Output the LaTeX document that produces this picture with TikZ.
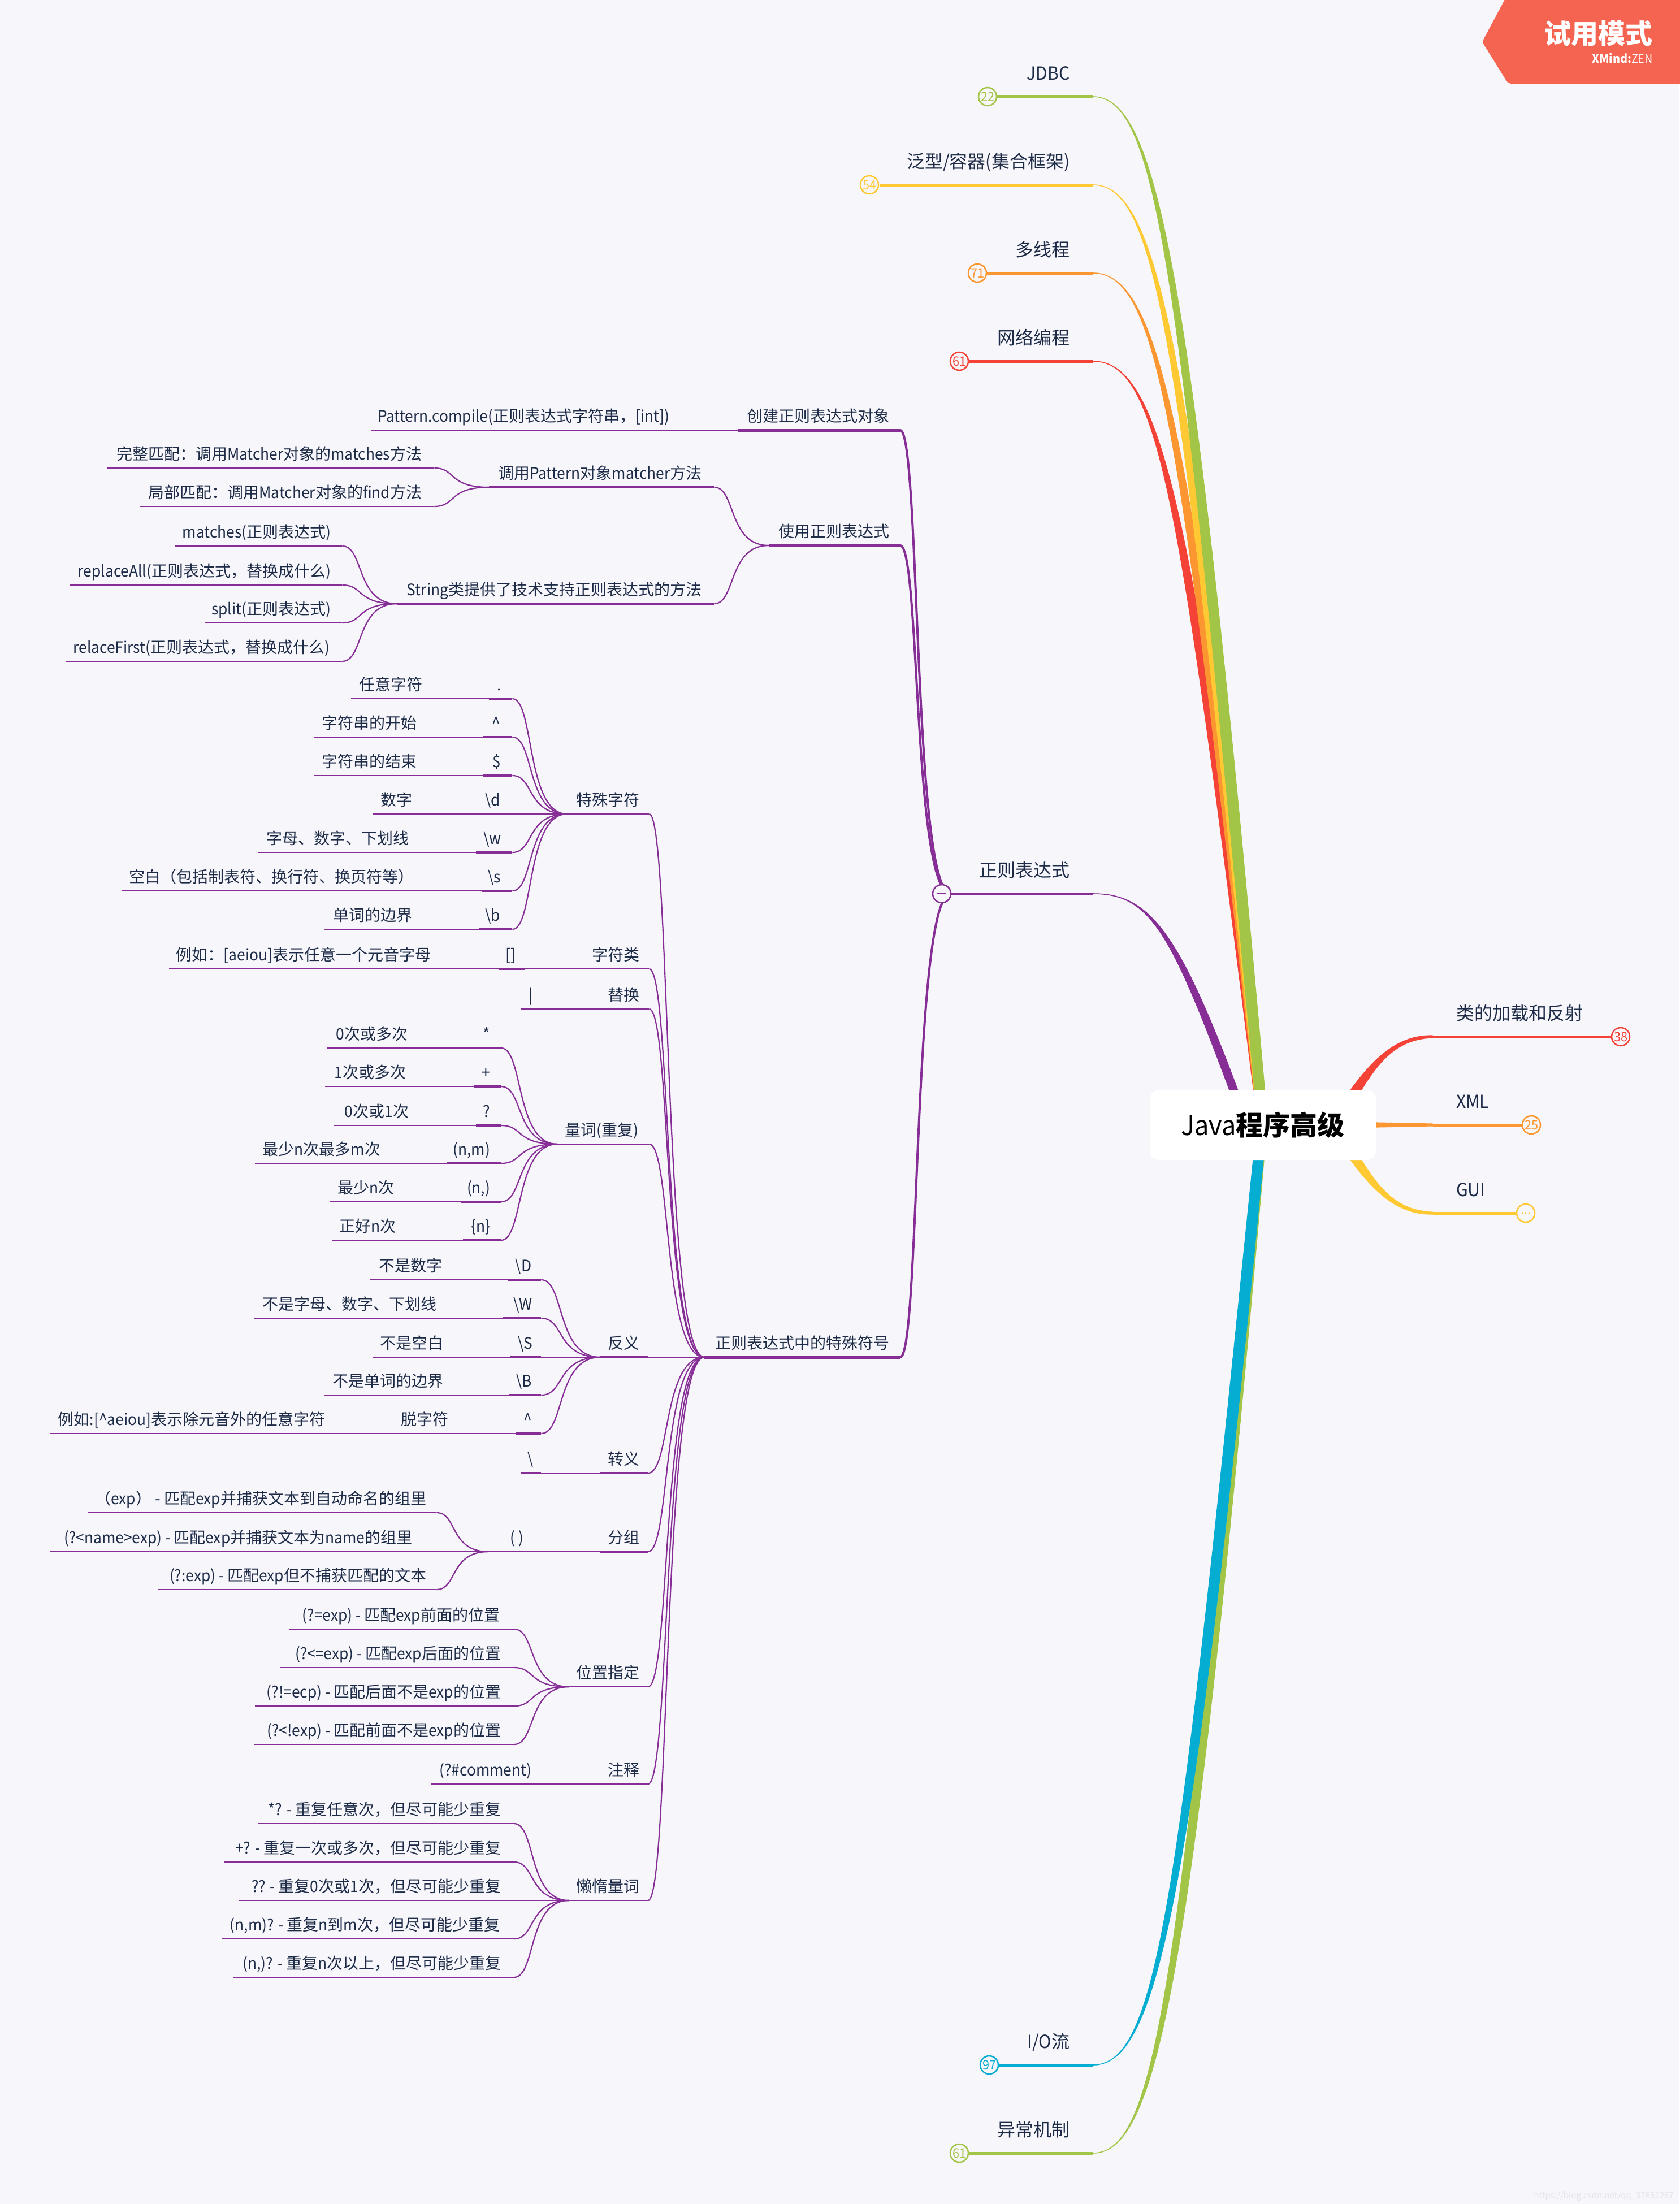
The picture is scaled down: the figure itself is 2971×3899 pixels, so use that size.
\documentclass[tikz,border=0pt]{standalone}
\usepackage{fontspec}
\setmainfont{Noto Sans CJK SC}[FakeStretch=0.94]
\newfontfamily\cjkf{Noto Sans CJK SC}
\XeTeXinterchartokenstate=1
\newcount\cjkcc
\cjkcc="3000 \loop \XeTeXcharclass\cjkcc=7 \advance\cjkcc 1 \ifnum\cjkcc<"3040 \repeat
\cjkcc="4E00 \loop \XeTeXcharclass\cjkcc=7 \advance\cjkcc 1 \ifnum\cjkcc<"A000 \repeat
\cjkcc="FF00 \loop \XeTeXcharclass\cjkcc=7 \advance\cjkcc 1 \ifnum\cjkcc<"FF60 \repeat
\XeTeXinterchartoks 0 7 = {\cjkf}
\XeTeXinterchartoks 4095 7 = {\cjkf}
\XeTeXinterchartoks 7 0 = {\rmfamily}
\usetikzlibrary{calc}
\definecolor{bgc}{HTML}{F6F6FB}
\definecolor{txt}{HTML}{1D2B47}
\definecolor{pur}{HTML}{862D96}
\definecolor{grn}{HTML}{A2C547}
\definecolor{yel}{HTML}{FFC934}
\definecolor{org}{HTML}{FC9630}
\definecolor{red1}{HTML}{F44336}
\definecolor{blu}{HTML}{06ADD2}
\definecolor{tag}{HTML}{F56450}
\tikzset{
  tnode/.style={inner sep=0pt,anchor=south west,text=txt,text height=26pt,text depth=14pt,font=\fontsize{28pt}{34pt}\selectfont},
  mnode/.style={inner sep=0pt,anchor=south west,text=txt,text height=30pt,text depth=29pt,font=\fontsize{32pt}{38pt}\selectfont},
  lf/.style={line width=2.5pt,pur},
  sy/.style={line width=3.6pt,pur},
  th/.style={line width=5pt,pur},
  lnk/.style={line width=2.2pt,pur},
  lnkb/.style={line width=4pt,pur},
  badge/.style={circle,minimum size=32pt,inner sep=0pt,draw=#1,line width=2.5pt,fill=bgc,text=#1,font=\fontsize{23pt}{26pt}\selectfont},
}
% style, name, xl, xr, y, x of text right edge, text
\newcommand\tp[7]{%
  \node[tnode] (#2) at (#3,#5) {\makebox[\dimexpr\numexpr#4-#3\relax pt][r]{#7\kern\dimexpr\numexpr#4-#6\relax pt}};
  \draw[#1] (#2.south west) -- (#2.south east);
}
\newcommand\mn[7]{%
  \node[mnode] (#2) at (#3,#5) {\makebox[\dimexpr\numexpr#4-#3\relax pt][r]{#7\kern\dimexpr\numexpr#4-#6\relax pt}};
  \draw[line width=5pt,#1] (#2.south west) -- (#2.south east);
}
\newcommand\mr[7]{%
  \node[mnode] (#2) at (#3,#5) {\makebox[\dimexpr\numexpr#4-#3\relax pt][l]{\kern\dimexpr\numexpr#6-#3\relax pt #7}};
  \draw[line width=5pt,#1] (#2.south west) -- (#2.south east);
}
% link: style, child, parent
\newcommand\lks[3]{%
  \draw[#1] let \p1=(#2.south east),\p2=(#3.south west) in
    (\p1) .. controls ({\x1+0.4*(\x2-\x1)},\y1) and ({\x1+0.25*(\x2-\x1)},\y2) .. (\p2);
}
\newcommand\lk[2]{\lks{lnk}{#1}{#2}}
% colour, main node, x shift of end, half width at P2, half width at P3, side sign
\newcommand\br[6]{%
  \fill[#1] let \p1=(#2.south east),\p2=($(root.center)+(#3,0)$) in
   (\x1,\y1+0.8pt) .. controls ({\x1+0.39*(\x2-\x1)},\y1+0.8pt) and ({\x1+0.55*(\x2-\x1)+#6*#4pt},{\y1+0.18*(\y2-\y1)}) .. ({\x2+#6*#5pt},\y2)
   -- ({\x2-#6*#5pt},\y2) .. controls ({\x1+0.55*(\x2-\x1)-#6*#4pt},{\y1+0.18*(\y2-\y1)}) and ({\x1+0.39*(\x2-\x1)},\y1-0.8pt) .. (\x1,\y1-0.8pt) -- cycle;
}
% colour, right-hand node, side sign (1 = node above root, -1 = below)
\newcommand\brr[3]{%
  \fill[#1] let \p1=(#2.south west),\p2=(root.center) in
   (\x1,{\y1+#3*2.5pt}) .. controls (\x1-80pt,{\y1+#3*5pt}) and (\x1-130pt,{\y1+0.42*(\y2-\y1)}) .. (\x1-188pt,\y2)
   -- (\x1-162pt,\y2) .. controls (\x1-110pt,{\y1+0.42*(\y2-\y1)}) and (\x1-80pt,{\y1-#3*5pt}) .. (\x1,{\y1-#3*2.5pt}) -- cycle;
}
% symbol node with its description to the left, and the link between them
\newcommand\pr[9]{%
  \tp{sy}{#1}{#2}{#3}{#4}{#5}{#6}
  \tp{lf}{#1d}{#7}{#8}{#4}{\numexpr#8-14\relax}{#9}
  \lk{#1d}{#1}
}
\begin{document}
\begin{tikzpicture}[x=1pt,y=-1pt]
\useasboundingbox (0,0) rectangle (2971,3899);
\fill[bgc] (0,0) rectangle (2971,3899);
\coordinate (root) at (2234,1990);

% main nodes
\mn{grn}{jdbc}{1763}{1933}{171}{1892}{JDBC}
\mn{yel}{coll}{1556}{1933}{327}{1892}{泛型/容器(集合框架)}
\mn{org}{thr}{1745}{1933}{483}{1892}{多线程}
\mn{red1}{net}{1713}{1933}{639}{1892}{网络编程}
\mn{pur}{re}{1682}{1933}{1581}{1892}{正则表达式}
\mn{blu}{io}{1768}{1933}{3653}{1892}{I/O流}
\mn{grn}{exc}{1714}{1933}{3809}{1892}{异常机制}
\mr{red1}{refl}{2535}{2851}{1834}{2576}{类的加载和反射}
\mr{org}{xml}{2535}{2693}{1990}{2576}{XML}
\mr{yel}{gui}{2535}{2683}{2146}{2576}{GUI}

% main branches
\br{red1}{net}{0}{12.5}{9.5}{1}
\br{org}{thr}{0}{12.5}{9.5}{1}
\br{yel}{coll}{0}{12.5}{9.5}{1}
\br{grn}{jdbc}{0}{12.5}{9.5}{1}
\br{pur}{re}{-29}{9}{8}{1}
\br{grn}{exc}{0}{14}{8}{-1}
\br{blu}{io}{-2}{13}{9.5}{-1}
\brr{red1}{refl}{1}
\brr{yel}{gui}{-1}
\fill[org] let \p1=(xml.south west),\p2=(root.center) in
  (\x1,\y1+2.5pt) -- (\x1-120pt,\y2+5pt) -- (\x1-120pt,\y2-5pt) -- (\x1,\y1-2.5pt) -- cycle;

% badges
\node[badge=grn] (bjdbc) at (1747,171) {22};
\node[badge=yel] (bcoll) at (1538,327) {54};
\node[badge=org] (bthr) at (1729,483) {71};
\node[badge=red1] (bnet) at (1697,639) {61};
\node[badge=blu] (bio) at (1750,3653) {97};
\node[badge=grn] (bexc) at (1697,3809) {61};
\node[badge=red1] (brefl) at (2867,1834) {38};
\node[badge=org] (bxml) at (2709,1990) {25};
\node[badge=yel] (bgui) at (2699,2146) {...};

% regex: level 1
\tp{th}{cre}{1305}{1592}{761}{1573}{创建正则表达式对象}
\tp{th}{use}{1360}{1592}{965}{1573}{使用正则表达式}
\tp{th}{spc}{1246}{1592}{2401}{1573}{正则表达式中的特殊符号}
\lks{lnkb}{cre}{re}\lks{lnkb}{use}{re}\lks{lnkb}{spc}{re}
\tp{lf}{comp}{656}{1198}{761}{1184}{Pattern.compile(正则表达式字符串，[int])}
\lk{comp}{cre}
\tp{sy}{pm}{865}{1263}{862}{1241}{调用Pattern对象matcher方法}
\tp{sy}{sm}{702}{1263}{1068}{1241}{String类提供了技术支持正则表达式的方法}
\lk{pm}{use}\lk{sm}{use}
\tp{lf}{wm}{189}{768}{828}{746}{完整匹配：调用Matcher对象的matches方法}
\tp{lf}{fm}{248}{768}{896}{746}{局部匹配：调用Matcher对象的find方法}
\lk{wm}{pm}\lk{fm}{pm}
\tp{lf}{s1}{309}{605}{966}{585}{matches(正则表达式)}
\tp{lf}{s2}{123}{605}{1035}{585}{replaceAll(正则表达式，替换成什么)}
\tp{lf}{s3}{363}{605}{1102}{585}{split(正则表达式)}
\tp{lf}{s4}{117}{605}{1170}{583}{relaceFirst(正则表达式，替换成什么)}
\lk{s1}{sm}\lk{s2}{sm}\lk{s3}{sm}\lk{s4}{sm}

% special characters
\tp{lf}{tsc}{1003}{1148}{1440}{1131}{特殊字符}
\lk{tsc}{spc}
\pr{a1}{865}{906}{1236}{887}{.}{621}{761}{任意字符}
\pr{a2}{855}{906}{1304}{885}{\textasciicircum}{555}{751}{字符串的开始}
\pr{a3}{855}{906}{1372}{886}{\$}{555}{751}{字符串的结束}
\pr{a4}{848}{906}{1440}{885}{\textbackslash d}{659}{743}{数字}
\pr{a5}{842}{906}{1508}{886}{\textbackslash w}{457}{737}{字母、数字、下划线}
\pr{a6}{852}{906}{1576}{886}{\textbackslash s}{215}{730}{空白（包括制表符、换行符、换页符等）\kern-16pt}
\pr{a7}{848}{906}{1644}{885}{\textbackslash b}{574}{743}{单词的边界}
\lk{a1}{tsc}\lk{a2}{tsc}\lk{a3}{tsc}\lk{a4}{tsc}\lk{a5}{tsc}\lk{a6}{tsc}\lk{a7}{tsc}

% character class, alternation
\tp{lf}{tcl}{1033}{1148}{1714}{1131}{字符类}
\lk{tcl}{spc}
\pr{b1}{883}{928}{1714}{912}{[]}{299}{776}{例如：[aeiou]表示任意一个元音字母}
\lk{b1}{tcl}
\tp{lf}{tal}{1061}{1148}{1785}{1131}{替换}
\lk{tal}{spc}
\tp{sy}{c1}{922}{958}{1785}{942}{|}
\lk{c1}{tal}

% quantifiers
\tp{lf}{tqu}{986}{1148}{2024}{1129}{量词(重复)}
\lk{tqu}{spc}
\pr{q1}{842}{886}{1854}{867}{*}{579}{735}{0次或多次}
\pr{q2}{838}{886}{1922}{867}{+}{575}{732}{1次或多次}
\pr{q3}{842}{886}{1991}{867}{?}{591}{737}{0次或1次}
\pr{q4}{791}{886}{2058}{867}{(n,m)}{451}{687}{最少n次最多m次}
\pr{q5}{815}{886}{2126}{867}{(n,)}{583}{711}{最少n次}
\pr{q6}{819}{886}{2194}{867}{\{n\}}{587}{714}{正好n次}
\lk{q1}{tqu}\lk{q2}{tqu}\lk{q3}{tqu}\lk{q4}{tqu}\lk{q5}{tqu}\lk{q6}{tqu}

% negation
\tp{sy}{tne}{1062}{1146}{2401}{1131}{反义}
\lk{tne}{spc}
\pr{n1}{899}{957}{2264}{940}{\textbackslash D}{654}{796}{不是数字}
\pr{n2}{889}{957}{2332}{941}{\textbackslash W}{449}{786}{不是字母、数字、下划线}
\pr{n3}{902}{957}{2401}{942}{\textbackslash S}{659}{798}{不是空白}
\pr{n4}{900}{957}{2468}{941}{\textbackslash B}{573}{798}{不是单词的边界}
\pr{n5}{912}{957}{2536}{941}{\textasciicircum}{694}{807}{脱字符}
\tp{lf}{n6}{89}{589}{2536}{575}{例如:[\textasciicircum aeiou]表示除元音外的任意字符}
\lk{n6}{n5d}
\lk{n1}{tne}\lk{n2}{tne}\lk{n3}{tne}\lk{n4}{tne}\lk{n5}{tne}

% escape
\tp{sy}{tes}{1061}{1146}{2606}{1131}{转义}
\lk{tes}{spc}
\tp{sy}{e1}{921}{957}{2606}{944}{\textbackslash}
\lk{e1}{tes}

% groups
\tp{sy}{tgr}{1061}{1146}{2745}{1131}{分组}
\lk{tgr}{spc}
\tp{lf}{g0}{864}{957}{2745}{926}{( )}
\lk{g0}{tgr}
\tp{lf}{g1}{155}{772}{2676}{754}{（exp） - 匹配exp并捕获文本到自动命名的组里}
\tp{lf}{g2}{88}{743}{2745}{729}{(?<name>exp) - 匹配exp并捕获文本为name的组里}
\tp{lf}{g3}{279}{772}{2812}{754}{(?:exp) - 匹配exp但不捕获匹配的文本}
\lk{g1}{g0}\lk{g2}{g0}\lk{g3}{g0}

% positions
\tp{lf}{tpo}{1006}{1146}{2984}{1131}{位置指定}
\lk{tpo}{spc}
\tp{lf}{p1}{511}{909}{2882}{884}{(?=exp) - 匹配exp前面的位置}
\tp{lf}{p2}{495}{909}{2950}{886}{(?<=exp) - 匹配exp后面的位置}
\tp{lf}{p3}{451}{909}{3018}{886}{(?!=ecp) - 匹配后面不是exp的位置}
\tp{lf}{p4}{449}{909}{3086}{886}{(?<!exp) - 匹配前面不是exp的位置}
\lk{p1}{tpo}\lk{p2}{tpo}\lk{p3}{tpo}\lk{p4}{tpo}

% comment
\tp{sy}{tco}{1061}{1146}{3156}{1131}{注释}
\lk{tco}{spc}
\tp{lf}{co}{762}{955}{3156}{940}{(?\#comment)}
\lk{co}{tco}

% lazy
\tp{lf}{tla}{1006}{1146}{3362}{1131}{懒惰量词}
\lk{tla}{spc}
\tp{lf}{l1}{457}{909}{3226}{886}{*? - 重复任意次，但尽可能少重复}
\tp{lf}{l2}{397}{909}{3294}{886}{+? - 重复一次或多次，但尽可能少重复}
\tp{lf}{l3}{423}{909}{3362}{886}{?? - 重复0次或1次，但尽可能少重复}
\tp{lf}{l4}{393}{909}{3430}{884}{(n,m)? - 重复n到m次，但尽可能少重复}
\tp{lf}{l5}{413}{909}{3498}{886}{(n,)? - 重复n次以上，但尽可能少重复}
\lk{l1}{tla}\lk{l2}{tla}\lk{l3}{tla}\lk{l4}{tla}\lk{l5}{tla}

% collapse badge on regex
\node[badge=pur] (bre) at (1666,1581) {};
\draw[pur,line width=2.5pt] ($(bre.center)+(-8,0)$) -- ($(bre.center)+(8,0)$);

% root
\node[fill=white,rounded corners=16pt,minimum width=400pt,minimum height=124pt,inner sep=0pt,text=black,font=\fontsize{48pt}{56pt}\selectfont] (root) at (2234,1990) {Java{\bfseries 程序高级}};

% trial tag
\fill[tag,rounded corners=6pt] (2668,-12) -- (2622,74) -- (2668,148) -- (2983,148) -- (2983,-12) -- cycle;
\node[inner sep=0pt,anchor=base east,text=white,font=\fontsize{48pt}{56pt}\selectfont\bfseries] (trial) at (2924,78) {试用模式};
\node[inner sep=0pt,anchor=base east,text=white,font=\fontsize{21pt}{24pt}\selectfont] (xm) at (2924,112) {{\bfseries XMind:}ZEN};

% watermark
\node[inner sep=0pt,anchor=base east,text=bgc!93!black,font=\fontsize{16pt}{20pt}\selectfont] (wm) at (2961,3889) {https://blog.csdn.net/qq\_37651267};
\end{tikzpicture}
\end{document}
